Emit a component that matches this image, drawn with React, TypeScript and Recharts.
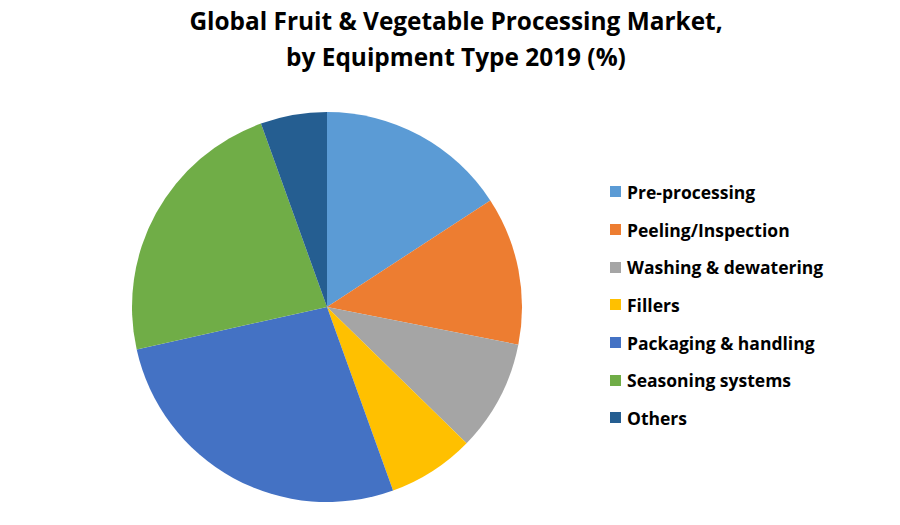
import { PieChart, Pie, Cell, Legend } from "recharts";

const categories = [
  "Pre-processing",
  "Peeling/Inspection",
  "Washing & dewatering",
  "Fillers",
  "Packaging & handling",
  "Seasoning systems",
  "Others",
];
const shares = [15.8, 12.3, 9.2, 7.2, 27.0, 23.0, 5.5];
const colors = ["#5B9BD5", "#ED7D31", "#A5A5A5", "#FFC000", "#4472C4", "#70AD47", "#255E91"];
const titleLines = ["Global Fruit & Vegetable Processing Market,", "by Equipment Type 2019 (%)"];

const data = categories.map((name, i) => ({ name, value: shares[i] }));

const font = "'Open Sans', Lato, sans-serif";

function LegendList() {
  return (
    <ul style={{ listStyle: "none", margin: 0, padding: 0 }}>
      {categories.map((name, i) => (
        <li
          key={name}
          style={{ display: "flex", alignItems: "center", height: 37.7, fontFamily: font, fontWeight: 700, fontSize: 17.5, color: "#000" }}
        >
          <span style={{ display: "inline-block", width: 11, height: 11, background: colors[i], marginRight: 6 }} />
          {name}
        </li>
      ))}
    </ul>
  );
}

export default function App() {
  return (
    <div style={{ position: "absolute", left: 0, top: 0, width: 900, height: 525, background: "#fff" }}>
      <div
        style={{
          position: "absolute",
          left: 0,
          top: 3,
          width: 900,
          textAlign: "center",
          fontFamily: font,
          fontWeight: 700,
          fontSize: 24.4,
          lineHeight: "36px",
          color: "#000",
        }}
      >
        {titleLines.map((t) => (
          <div key={t} style={{ transform: "translateX(6px)" }}>{t}</div>
        ))}
      </div>
      <PieChart width={900} height={525} margin={{ top: 0, right: 0, bottom: 0, left: 0 }}>
        <Pie
          data={data}
          dataKey="value"
          nameKey="name"
          cx={327}
          cy={307}
          outerRadius={195}
          startAngle={90}
          endAngle={-270}
          stroke="none"
          isAnimationActive={false}
        >
          {data.map((d, i) => (
            <Cell key={d.name} fill={colors[i]} />
          ))}
        </Pie>
        <Legend
          layout="vertical"
          content={() => <LegendList />}
          wrapperStyle={{ left: 610, top: 173, width: 280 }}
        />
      </PieChart>
    </div>
  );
}
